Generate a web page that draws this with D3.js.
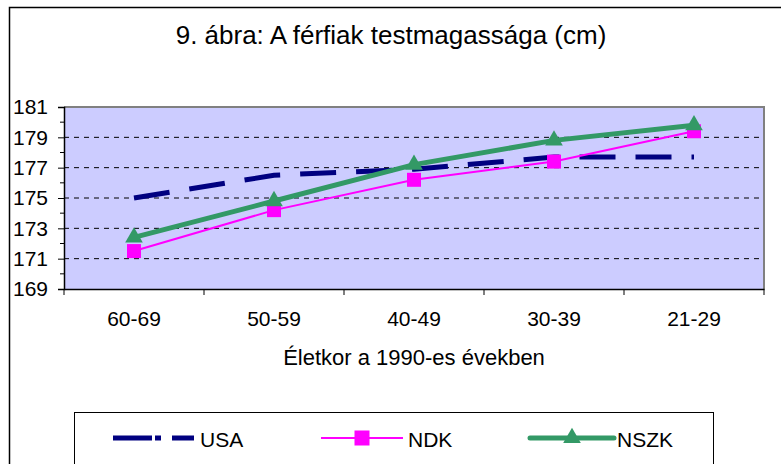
<!DOCTYPE html>
<html>
<head>
<meta charset="utf-8">
<script src="https://cdnjs.cloudflare.com/ajax/libs/d3/7.8.5/d3.min.js"></script>
<style>
  body { margin: 0; background: #fff; }
  text { font-family: "Liberation Sans", Arial, sans-serif; fill: #000; }
</style>
</head>
<body>
<svg id="chart"></svg>
<script>
const categories = ['60-69', '50-59', '40-49', '30-39', '21-29'];
const usa  = [175.0, 176.5, 176.9, 177.7, 177.7];
const ndk  = [171.5, 174.2, 176.2, 177.4, 179.4];
const nszk = [172.4, 174.8, 177.2, 178.8, 179.8];
const yTicks = [169, 171, 173, 175, 177, 179, 181];
const title = '9. ábra: A férfiak testmagassága (cm)';
const xTitle = 'Életkor a 1990-es években';

const W = 781, H = 464;
const plot = { left: 64, right: 764, top: 107, bottom: 289 };

const svg = d3.select('#chart')
  .attr('width', W)
  .attr('height', H);

svg.append('rect').attr('width', W).attr('height', H).attr('fill', '#fff');

// outer frame (runs off the right and bottom edge)
svg.append('rect')
  .attr('x', 9.5).attr('y', 7.5)
  .attr('width', 800).attr('height', 500)
  .attr('fill', 'none').attr('stroke', '#000').attr('stroke-width', 1.5);

svg.append('text')
  .attr('x', 391).attr('y', 44)
  .attr('text-anchor', 'middle')
  .style('font-size', '26px')
  .text(title);

const x = d3.scaleBand()
  .domain(categories)
  .range([plot.left, plot.right]);

const y = d3.scaleLinear()
  .domain([169, 181])
  .range([plot.bottom, plot.top]);

// plot area
svg.append('rect')
  .attr('x', plot.left).attr('y', plot.top)
  .attr('width', plot.right - plot.left).attr('height', plot.bottom - plot.top)
  .attr('fill', '#ccccff');

svg.append('path')
  .attr('d', `M${plot.left},${plot.top}H${plot.right}V${plot.bottom}`)
  .attr('fill', 'none').attr('stroke', '#808080').attr('stroke-width', 2);

// dashed gridlines
svg.append('g')
  .selectAll('line')
  .data(yTicks.filter(t => t > 169 && t < 181))
  .join('line')
  .attr('x1', plot.left).attr('x2', plot.right)
  .attr('y1', d => y(d)).attr('y2', d => y(d))
  .attr('stroke', '#000').attr('stroke-width', 1)
  .attr('stroke-dasharray', '5,5');

// y axis
const yAxis = d3.axisLeft(y)
  .tickValues(yTicks)
  .tickSize(6)
  .tickPadding(10)
  .tickFormat(d3.format('d'));

const gy = svg.append('g')
  .attr('transform', `translate(${plot.left},0)`)
  .call(yAxis);
gy.select('.domain').attr('stroke', '#000').attr('stroke-width', 1.5);
gy.selectAll('.tick text').style('font-size', '21px').attr('fill', '#000')
  .attr('font-family', null);

// minor ticks
svg.append('g')
  .selectAll('line')
  .data(d3.range(170, 181, 2))
  .join('line')
  .attr('x1', plot.left - 4).attr('x2', plot.left)
  .attr('y1', d => y(d)).attr('y2', d => y(d))
  .attr('stroke', '#000');

// x axis
const xAxis = d3.axisBottom(x)
  .tickSize(0)
  .tickPadding(22);

const gx = svg.append('g')
  .attr('transform', `translate(0,${plot.bottom})`)
  .call(xAxis);
gx.select('.domain').attr('stroke', '#000').attr('stroke-width', 1.5);
gx.selectAll('.tick text').style('font-size', '21px').attr('fill', '#000')
  .attr('font-family', null);

// band boundary ticks
svg.append('g')
  .selectAll('line')
  .data(categories.map(c => x(c)).concat([x.range()[1]]))
  .join('line')
  .attr('x1', d => d).attr('x2', d => d)
  .attr('y1', plot.bottom).attr('y2', plot.bottom + 6)
  .attr('stroke', '#000');

svg.append('text')
  .attr('x', 414).attr('y', 365)
  .attr('text-anchor', 'middle')
  .style('font-size', '22px')
  .text(xTitle);

const cx = c => x(c) + x.bandwidth() / 2;
const line = d3.line().x((d, i) => cx(categories[i])).y(d => y(d));

// USA
svg.append('path')
  .datum(usa)
  .attr('d', line)
  .attr('fill', 'none').attr('stroke', '#000080').attr('stroke-width', 5)
  .attr('stroke-dasharray', '36,20');

// NDK
svg.append('path')
  .datum(ndk)
  .attr('d', line)
  .attr('fill', 'none').attr('stroke', '#ff00ff').attr('stroke-width', 2);
svg.append('g')
  .selectAll('rect')
  .data(ndk)
  .join('rect')
  .attr('x', (d, i) => cx(categories[i]) - 7)
  .attr('y', d => y(d) - 7)
  .attr('width', 14).attr('height', 14)
  .attr('fill', '#ff00ff');

// NSZK
const tri = d3.symbol().type(d3.symbolTriangle).size(135);
svg.append('path')
  .datum(nszk)
  .attr('d', line)
  .attr('fill', 'none').attr('stroke', '#339966').attr('stroke-width', 5);
svg.append('g')
  .selectAll('path')
  .data(nszk)
  .join('path')
  .attr('d', tri)
  .attr('transform', (d, i) => `translate(${cx(categories[i])},${y(d)})`)
  .attr('fill', '#339966');

// legend
svg.append('rect')
  .attr('x', 74.5).attr('y', 412.5)
  .attr('width', 639).attr('height', 80)
  .attr('fill', '#fff').attr('stroke', '#000').attr('stroke-width', 1);

const ly = 438;
const legend = [
  { name: 'USA', x1: 113, x2: 194, tx: 200 },
  { name: 'NDK', x1: 321, x2: 403, tx: 408 },
  { name: 'NSZK', x1: 530, x2: 614, tx: 617 }
];

svg.append('line')
  .attr('x1', legend[0].x1).attr('x2', legend[0].x2).attr('y1', ly).attr('y2', ly)
  .attr('stroke', '#000080').attr('stroke-width', 5)
  .attr('stroke-dasharray', '39,3,6,11,30');

svg.append('line')
  .attr('x1', legend[1].x1).attr('x2', legend[1].x2).attr('y1', ly).attr('y2', ly)
  .attr('stroke', '#ff00ff').attr('stroke-width', 2);
svg.append('rect')
  .attr('x', (legend[1].x1 + legend[1].x2) / 2 - 7.5).attr('y', ly - 7.5)
  .attr('width', 15).attr('height', 15)
  .attr('fill', '#ff00ff');

svg.append('line')
  .attr('x1', legend[2].x1).attr('x2', legend[2].x2).attr('y1', ly).attr('y2', ly)
  .attr('stroke', '#339966').attr('stroke-width', 5).attr('stroke-linecap', 'round');
svg.append('path')
  .attr('d', tri)
  .attr('transform', `translate(${(legend[2].x1 + legend[2].x2) / 2},${ly})`)
  .attr('fill', '#339966');

svg.append('g')
  .selectAll('text')
  .data(legend)
  .join('text')
  .attr('x', d => d.tx).attr('y', 447)
  .style('font-size', '21px')
  .text(d => d.name);
</script>
</body>
</html>
